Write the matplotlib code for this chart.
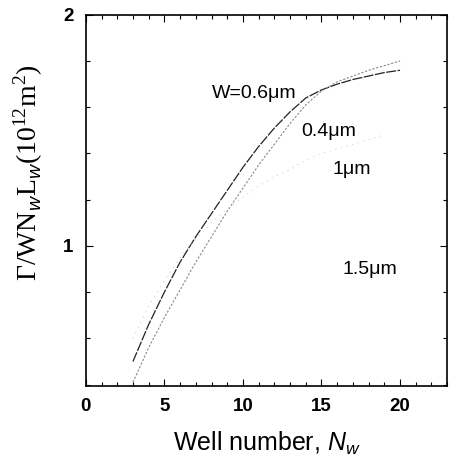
import matplotlib
matplotlib.use('Agg')
import matplotlib.pyplot as plt
from matplotlib.ticker import MultipleLocator

plt.rcParams['font.family'] = ['Liberation Sans', 'DejaVu Sans']
plt.rcParams['mathtext.fontset'] = 'custom'
plt.rcParams['mathtext.rm'] = 'Liberation Serif'
plt.rcParams['mathtext.it'] = 'Liberation Sans:italic'
plt.rcParams['mathtext.sf'] = 'Liberation Sans'

# well number and normalised quantity for each width
n_w = [3, 4, 5, 6, 7, 8, 9, 10, 11, 12, 13, 14, 15, 16, 17, 18, 19, 20]
w06 = [0.50, 0.66, 0.80, 0.93, 1.04, 1.14, 1.24, 1.34, 1.43, 1.51, 1.58, 1.64,
       1.675, 1.70, 1.72, 1.735, 1.75, 1.76]
w04 = [0.41, 0.56, 0.69, 0.81, 0.93, 1.04, 1.15, 1.25, 1.35, 1.44, 1.53, 1.61,
       1.67, 1.71, 1.735, 1.76, 1.78, 1.80]
n_w1 = [3, 4, 5, 6, 7, 8, 9, 10, 11, 12, 13, 14, 15, 16, 17, 18, 19]
w1 = [0.60, 0.74, 0.85, 0.95, 1.03, 1.10, 1.16, 1.21, 1.26, 1.30, 1.33, 1.37,
      1.40, 1.42, 1.44, 1.46, 1.48]

fig = plt.figure(figsize=(4.54, 4.62), dpi=100)
ax = fig.add_axes([0.189, 0.165, 0.796, 0.803])

ax.plot(n_w, w06, color='#222222', lw=0.9, ls=(0, (8, 1.2)))
ax.plot(n_w, w04, color='#888888', lw=0.8, ls=(0, (2, 1.5)))
ax.plot(n_w1, w1, color='#c8c8c8', lw=0.7, ls=(0, (1, 5)))

ax.set_xlim(0, 23)
ax.set_ylim(0.395, 2.0)
ax.xaxis.set_major_locator(MultipleLocator(5))
ax.xaxis.set_minor_locator(MultipleLocator(1))
ax.yaxis.set_major_locator(MultipleLocator(1))
ax.yaxis.set_minor_locator(MultipleLocator(0.2))
ax.tick_params(which='both', direction='in', top=True, right=True, width=0.8)
ax.tick_params(which='major', length=5, labelsize=13.5, pad=9)
ax.tick_params(which='minor', length=3)
for lab in ax.get_xticklabels() + ax.get_yticklabels():
    lab.set_fontweight('bold')
for s in ax.spines.values():
    s.set_linewidth(1.2)

ax.text(8.05, 1.66, 'W=0.6\u03bcm', fontsize=14, va='center')
ax.text(13.7, 1.497, '0.4\u03bcm', fontsize=14, va='center')
ax.text(15.7, 1.33, '1\u03bcm', fontsize=14, va='center')
ax.text(16.35, 0.90, '1.5\u03bcm', fontsize=14, va='center')

ax.set_xlabel('Well number, $\\mathit{N}_{w}$', fontsize=18)
ax.xaxis.set_label_coords(0.5, -0.118)
ax.set_ylabel('$\\Gamma$/WN$_{w}$L$_{w}$(10$^{12}$m$^{2}$)', fontsize=20,
              family='Liberation Serif')
ax.yaxis.set_label_coords(-0.112, 0.575)

fig.savefig('out.png', dpi=100)
